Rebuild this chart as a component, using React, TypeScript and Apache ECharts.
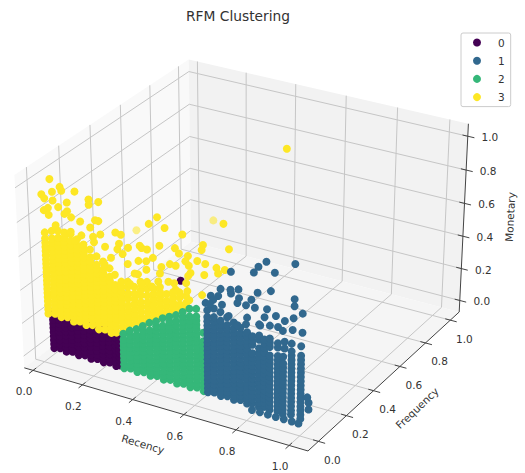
import React, { useEffect, useRef } from "react";
import * as echarts from "echarts";

const COLORS = { c0: "#440154", c1: "#31688e", c2: "#35b779", c3: "#fde725" };
const clusterNames = ["0", "1", "2", "3"];
const tickValues = [0, 0.2, 0.4, 0.6, 0.8, 1];
const tickLabels = ["0.0", "0.2", "0.4", "0.6", "0.8", "1.0"];
const rLim = [-0.036, 1.07];
const fLim = [-0.0729, 1.073];
const mLim = [-0.0729, 1.073];
const frontF = 0.02;

// [recency, [monetary...]] read column by column, frequency close to frontF
const darkColumns: [number, number[]][] = [
  [.03, [.01, .035, .06, .085, .11, .135, .16, .185, .21, .235]],
  [.055, [.02, .045, .07, .095, .12, .145, .17, .195, .22, .245]],
  [.08, [.01, .035, .06, .085, .11, .135, .16, .185, .21, .235]],
  [.105, [.02, .045, .07, .095, .12, .145, .17, .195, .22, .245]],
  [.13, [.01, .035, .06, .085, .11, .135, .16, .185, .21, .235]],
  [.155, [.02, .045, .07, .095, .12, .145, .17, .195, .22, .245]],
  [.18, [.01, .035, .06, .085, .11, .135, .16, .185, .21, .235]],
  [.205, [.02, .045, .07, .095, .12, .145, .17, .195, .22, .245]],
  [.23, [.01, .035, .06, .085, .11, .135, .16, .185, .21, .235]],
  [.255, [.02, .045, .07, .095, .12, .145, .17, .195, .22, .245]],
  [.28, [.01, .035, .06, .085, .11, .135, .16, .185, .21, .235]],
  [.295, [.02, .045, .07, .095, .12, .145, .17, .195]],
];
const darkExtras: [number, number][] = [[.54, .63]];

const yellowColumns: [number, number[]][] = [
  [.012, [.215, .24, .265, .29, .315, .34, .365, .39, .415, .44, .465, .49, .515, .54, .565, .59, .615, .64, .665, .7]],
  [.04, [.225, .25, .275, .3, .325, .35, .375, .4, .425, .45, .475, .5, .525, .55, .575, .6, .625, .65, .675, .72]],
  [.065, [.215, .24, .265, .29, .315, .34, .365, .39, .415, .44, .465, .49, .515, .54, .565, .59, .615, .64, .665, .69, .73]],
  [.09, [.225, .25, .275, .3, .325, .35, .375, .4, .425, .45, .475, .5, .525, .55, .575, .6, .625, .65, .675, .7, .73]],
  [.115, [.21, .24, .265, .29, .315, .34, .365, .39, .415, .44, .465, .49, .515, .54, .565, .59, .615, .64, .665, .69, .73]],
  [.14, [.22, .25, .275, .3, .325, .35, .375, .4, .425, .45, .475, .5, .525, .55, .575, .6, .625, .65, .675, .71]],
  [.165, [.21, .24, .265, .29, .315, .34, .365, .39, .415, .44, .465, .49, .515, .54, .565, .59, .615, .64, .665, .69]],
  [.19, [.22, .25, .275, .3, .325, .35, .375, .4, .425, .45, .475, .5, .525, .55, .575, .6, .625, .67]],
  [.215, [.205, .24, .265, .29, .315, .34, .365, .39, .415, .44, .465, .49, .515, .54, .565, .59, .64]],
  [.24, [.215, .25, .275, .3, .325, .35, .375, .4, .425, .45, .475, .5, .525, .55, .575, .62]],
  [.265, [.205, .24, .265, .29, .315, .34, .365, .39, .415, .44, .465, .49, .515, .54, .59]],
  [.285, [.215, .25, .275, .3, .325, .35, .375, .4, .425, .45, .475, .5, .56]],
  [.31, [.23, .26, .29, .32, .35, .38, .41, .44, .47, .5, .53]],
  [.335, [.25, .28, .31, .34, .37, .4, .44, .47, .51, .54]],
  [.36, [.3, .33, .36, .39, .42, .45, .48, .52]],
  [.385, [.32, .35, .38, .41, .44, .48, .51, .56]],
  [.41, [.33, .36, .39, .42, .45, .49, .53, .57]],
  [.435, [.36, .39, .42, .45, .48, .51, .54]],
  [.46, [.38, .41, .44, .47, .5, .53, .56]],
  [.485, [.4, .43, .46, .49, .53]],
  [.51, [.43, .46, .49, .52, .55]],
  [.535, [.46, .49, .53, .56]],
  [.56, [.48, .51, .55]],
];
const yellowExtras: [number, number][] = [
  [.04, 1.02], [.005, .92], [.016, .9], [.048, .95], [.079, .99], [.085, .97], [.137, .985], [.049, .9],
  [.105, .91], [.07, .87], [.191, .96], [.191, .93], [.229, .96], [.012, .83], [.029, .85], [.105, .86],
  [.094, .84], [.031, .81], [.12, .83], [.155, .82], [.214, .85], [.227, .85], [.422, .91], [.454, .96],
  [.482, .91], [.194, .8], [.116, .745], [.057, .76], [.292, .81], [.313, .805], [.233, .775],
  [.158, .74], [.133, .7], [.204, .75], [.207, .72], [.25, .71], [.305, .75], [.298, .715], [.34, .74],
  [.385, .77], [.392, .76], [.413, .76], [.461, .8], [.549, .9], [.52, .81], [.535, .785], [.626, .87],
  [.621, .84], [.723, .885], [.569, .785], [.604, .77], [.634, .765], [.559, .75], [.572, .73], [.5, .71],
  [.522, .71], [.467, .68], [.435, .72], [.409, .69], [.379, .68], [.676, .76], [.707, .76], [.682, .73],
  [.63, .7], [.578, .69], [.569, .67], [.461, .64], [.409, .64], [.376, .6], [.363, .6], [.493, .605],
  [.454, .59], [.561, .625], [.565, .58], [.572, .53], [.621, .58], [.344, .53], [.389, .545], [.428, .55],
  [.52, .57], [.487, .425], [.52, .45], [.318, .695], [.272, .655], [.246, .605], [.337, .645], [.515, .605],
];
const yellowFaintPairs: [number, number][] = [[.374, .855]];
// [recency, frequency, monetary] for the points that lie deep in the box
const yellowDeep: [number, number, number][] = [[.54, .75, .93], [.43, .5, .6]];
const yellowFaintDeep: [number, number, number][] = [[.39, .5, .605]];

const greenColumns: [number, number[]][] = [
  [.312, [.01, .035, .06, .085, .11, .135, .16, .185, .22]],
  [.338, [.02, .045, .07, .095, .12, .145, .17, .195, .22, .25]],
  [.364, [.01, .035, .06, .085, .11, .135, .16, .185, .21, .235, .27]],
  [.39, [.02, .045, .07, .095, .12, .145, .17, .195, .22, .245, .27, .3]],
  [.416, [.01, .035, .06, .085, .11, .135, .16, .185, .21, .235, .26, .285, .33]],
  [.442, [.02, .045, .07, .095, .12, .145, .17, .195, .22, .245, .27, .295, .32, .35]],
  [.468, [.01, .035, .06, .085, .11, .135, .16, .185, .21, .235, .26, .285, .31, .335, .38]],
  [.494, [.02, .045, .07, .095, .12, .145, .17, .195, .22, .245, .27, .295, .32, .345, .37, .4]],
  [.52, [.01, .035, .06, .085, .11, .135, .16, .185, .21, .235, .26, .285, .31, .335, .36, .385, .42]],
  [.546, [.02, .045, .07, .095, .12, .145, .17, .195, .22, .245, .27, .295, .32, .345, .37, .395, .42, .45]],
  [.572, [.01, .035, .06, .085, .11, .135, .16, .185, .21, .235, .26, .285, .31, .335, .36, .385, .41, .435, .48]],
  [.598, [.02, .045, .07, .095, .12, .145, .17, .195, .22, .245, .27, .295, .32, .345, .37, .395, .42, .445, .49]],
  [.624, [.01, .035, .06, .085, .11, .135, .16, .185, .21, .235, .26, .285, .31, .36]],
];

const blueColumns: [number, number[]][] = [
  [.64, [.01, .035, .06, .085, .11, .135, .16, .185, .21, .235, .26, .285, .31, .335, .36, .385, .41, .435, .46, .5]],
  [.665, [.02, .045, .07, .095, .12, .145, .17, .195, .22, .245, .27, .295, .32, .345, .37, .395, .42, .445, .47, .52]],
  [.69, [.01, .035, .06, .085, .11, .135, .16, .185, .21, .235, .26, .285, .31, .335, .36, .385, .41, .435, .46, .51]],
  [.715, [.02, .045, .07, .095, .12, .145, .17, .195, .22, .245, .27, .295, .32, .345, .37, .395, .42, .445, .49]],
  [.74, [.01, .035, .06, .085, .11, .135, .16, .185, .21, .235, .26, .285, .31, .335, .36, .385, .41, .435, .47]],
  [.765, [.02, .045, .07, .095, .12, .145, .17, .195, .22, .245, .27, .295, .32, .345, .37, .395, .42, .45]],
  [.79, [.01, .035, .06, .085, .11, .135, .16, .185, .21, .235, .26, .285, .31, .335, .36, .385, .41, .435, .52]],
  [.81, [.02, .045, .07, .095, .12, .145, .17, .195, .22, .245, .27, .295, .32, .37, .395, .42]],
  [.835, [.01, .035, .06, .085, .11, .135, .16, .185, .21, .235, .26, .285, .31, .335, .36, .41, .435, .5]],
  [.855, [.02, .045, .07, .095, .12, .145, .17, .195, .22, .245, .27, .295, .32, .345, .37, .395, .42, .55]],
  [.875, [.01, .035, .06, .085, .11, .135, .16, .185, .21, .235, .26, .285, .31, .335, .385, .41, .435, .51]],
  [.905, [.02, .045, .07, .095, .12, .145, .17, .195, .22, .245, .27, .295, .32, .345, .395, .42, .515]],
  [.925, [.01, .035, .06, .085, .11, .135, .16, .185, .21, .235, .26, .285, .31, .35]],
  [.956, [.02, .045, .07, .095, .12, .145, .17, .195, .22, .245, .27, .295, .32, .345, .37, .395, .44]],
  [.991, [.01, .035, .06, .085, .11, .135, .16, .185, .21, .235, .26, .285, .31, .335, .36, .385, .44]],
];
const blueExtras: [number, number][] = [
  [.73, .76], [.815, .79], [.832, .83], [.861, .87], [.892, .82], [.966, .9], [.691, .645], [.728, .655],
  [.73, .635], [.758, .67], [.829, .68], [.878, .71], [.682, .6], [.654, .59], [.663, .57], [.76, .62],
  [.806, .63], [.634, .54], [.65, .54], [.696, .555], [.754, .59], [.786, .59], [.965, .7], [.965, .66],
  [.819, .59], [.864, .6], [.897, .575], [.995, .63], [.721, .5], [.962, .59], [.93, .56], [.923, .5],
  [.995, .52], [.959, .52], [.93, .44], [.93, .4], [.754, .46], [.786, .48], [.839, .495],
];
const blueDeep: [number, number, number][] = [
  [1, .06, .04], [1, .06, .08], [1, .05, .12],
  [.82, 0, 0], [.85, 0, 0], [.88, 0, 0], [.91, 0, 0], [.94, 0, 0], [.97, 0, 0], [.995, 0, 0],
];

const ELEV = (30 * Math.PI) / 180;
const AZIM = (-60 * Math.PI) / 180;
const DIST = 10;
const BOX = [0.5714, 0.5714, 0.4286];
const SCALE = [2845, 2565];
const ORIGIN = [245.6, 246.2];

function project(r: number, f: number, m: number): [number, number] {
  const a = -BOX[0] + (2 * BOX[0] * (r - rLim[0])) / (rLim[1] - rLim[0]);
  const b = -BOX[1] + (2 * BOX[1] * (f - fLim[0])) / (fLim[1] - fLim[0]);
  const c = -BOX[2] + (2 * BOX[2] * (m - mLim[0])) / (mLim[1] - mLim[0]);
  const ce = Math.cos(ELEV), se = Math.sin(ELEV), ca = Math.cos(AZIM), sa = Math.sin(AZIM);
  const u = -sa * a + ca * b;
  const v = -se * ca * a - se * sa * b + ce * c;
  const w = ce * ca * a + ce * sa * b + se * c;
  const d = DIST - w;
  return [ORIGIN[0] + (SCALE[0] * u) / d, ORIGIN[1] - (SCALE[1] * v) / d];
}

const fromColumns = (cols: [number, number[]][]) =>
  cols.flatMap(([r, ms]) => ms.map((m) => project(r, frontF, m)));
const fromPairs = (ps: [number, number][]) => ps.map(([r, m]) => project(r, frontF, m));
const fromTriples = (ps: [number, number, number][]) => ps.map(([r, f, m]) => project(r, f, m));
const faint = (ps: [number, number][]) => ps.map((value) => ({ value, itemStyle: { opacity: 0.55 } }));

function line(p: [number, number], q: [number, number], stroke: string, lineWidth: number) {
  return { type: "line", silent: true, shape: { x1: p[0], y1: p[1], x2: q[0], y2: q[1] }, style: { stroke, lineWidth } };
}
function text(x: number, y: number, s: string, fontSize: number, rotation = 0) {
  return {
    type: "text", silent: true, x, y, rotation,
    style: { text: s, fill: "#333", font: `${fontSize}px "DejaVu Sans"`, align: "center", verticalAlign: "middle" },
  };
}

function buildGraphics() {
  const [r0, r1] = rLim, [f0, f1] = fLim, [m0, m1] = mLim;
  const el: any[] = [];
  const poly = (pts: [number, number][], fill: string) =>
    el.push({ type: "polygon", silent: true, shape: { points: pts }, style: { fill } });
  poly([project(r0, f0, m0), project(r0, f1, m0), project(r0, f1, m1), project(r0, f0, m1)], "#f9f9f9");
  poly([project(r0, f1, m0), project(r1, f1, m0), project(r1, f1, m1), project(r0, f1, m1)], "#f2f2f2");
  poly([project(r0, f0, m0), project(r1, f0, m0), project(r1, f1, m0), project(r0, f1, m0)], "#f5f5f5");
  const G = "#c6c6c6", GW = 1;
  for (const t of tickValues) {
    el.push(line(project(t, f0, m0), project(t, f1, m0), G, GW));
    el.push(line(project(t, f1, m0), project(t, f1, m1), G, GW));
    el.push(line(project(r0, t, m0), project(r1, t, m0), G, GW));
    el.push(line(project(r0, t, m0), project(r0, t, m1), G, GW));
    el.push(line(project(r0, f0, t), project(r0, f1, t), G, GW));
    el.push(line(project(r0, f1, t), project(r1, f1, t), G, GW));
  }
  const A = "#444";
  el.push(line(project(r0, f0, m0), project(r1, f0, m0), A, 1));
  el.push(line(project(r1, f0, m0), project(r1, f1, m0), A, 1));
  el.push(line(project(r1, f1, m0), project(r1, f1, m1), A, 1));
  tickValues.forEach((t, i) => {
    const a = project(t, f0, m0);
    el.push(line(project(t, f0 + 0.02, m0), project(t, f0 - 0.025, m0), A, 1));
    el.push(text(a[0] - 9, a[1] + 21, tickLabels[i], 10.5));
    const b = project(r1, t, m0);
    el.push(line(project(r1 - 0.02, t, m0), project(r1 + 0.025, t, m0), A, 1));
    el.push(text(b[0] + 14, b[1] + 18.5, tickLabels[i], 10.5));
    const c = project(r1, f1, t);
    el.push(line(project(r1 - 0.02, f1, t), project(r1 + 0.025, f1, t), A, 1));
    el.push(text(c[0] + 22, c[1] + 1, tickLabels[i], 10.5));
  });
  el.push(text(143, 444, "Recency", 10.5, -0.29));
  el.push(text(417, 408, "Frequency", 10.5, 0.76));
  el.push(text(510, 217, "Monetary", 10.5, 1.52));
  return el;
}

const scatter = (name: string, color: string, data: any[]) => ({
  name, type: "scatter", symbol: "circle", symbolSize: 8, silent: true,
  itemStyle: { color, opacity: 1 }, data,
});

export default function App() {
  const ref = useRef<HTMLDivElement>(null);
  useEffect(() => {
    const chart = echarts.init(ref.current!, undefined, { renderer: "svg" });
    chart.setOption({
      animation: false,
      backgroundColor: "#fff",
      title: {
        text: "RFM Clustering", left: 233, top: 4, textAlign: "center",
        textStyle: { fontFamily: "DejaVu Sans", fontSize: 13.8, fontWeight: "normal", color: "#333" },
        padding: 5,
      },
      legend: {
        data: clusterNames, orient: "vertical", left: 461, top: 33, padding: [4, 6, 4, 12],
        itemWidth: 8, itemHeight: 8, itemGap: 7.2, selectedMode: false,
        borderColor: "#ccc", borderWidth: 1, borderRadius: 2, backgroundColor: "rgba(255,255,255,0.8)",
        textStyle: { fontFamily: "DejaVu Sans", fontSize: 10.5, color: "#333", padding: [0, 0, 0, 12] },
      },
      grid: { left: 0, right: 0, top: 0, bottom: 0 },
      xAxis: { type: "value", min: 0, max: 525, show: false },
      yAxis: { type: "value", min: 0, max: 473, inverse: true, show: false },
      graphic: { elements: buildGraphics() },
      series: [
        scatter("0", COLORS.c0, [...fromColumns(darkColumns), ...fromPairs(darkExtras)]),
        scatter("3", COLORS.c3, [
          ...fromColumns(yellowColumns), ...fromPairs(yellowExtras), ...fromTriples(yellowDeep),
          ...faint(fromPairs(yellowFaintPairs)), ...faint(fromTriples(yellowFaintDeep)),
        ]),
        scatter("2", COLORS.c2, fromColumns(greenColumns)),
        scatter("1", COLORS.c1, [...fromColumns(blueColumns), ...fromPairs(blueExtras), ...fromTriples(blueDeep)]),
      ],
    });
    return () => chart.dispose();
  }, []);
  return <div ref={ref} style={{ position: "fixed", left: 0, top: 0, width: 525, height: 473 }} />;
}
